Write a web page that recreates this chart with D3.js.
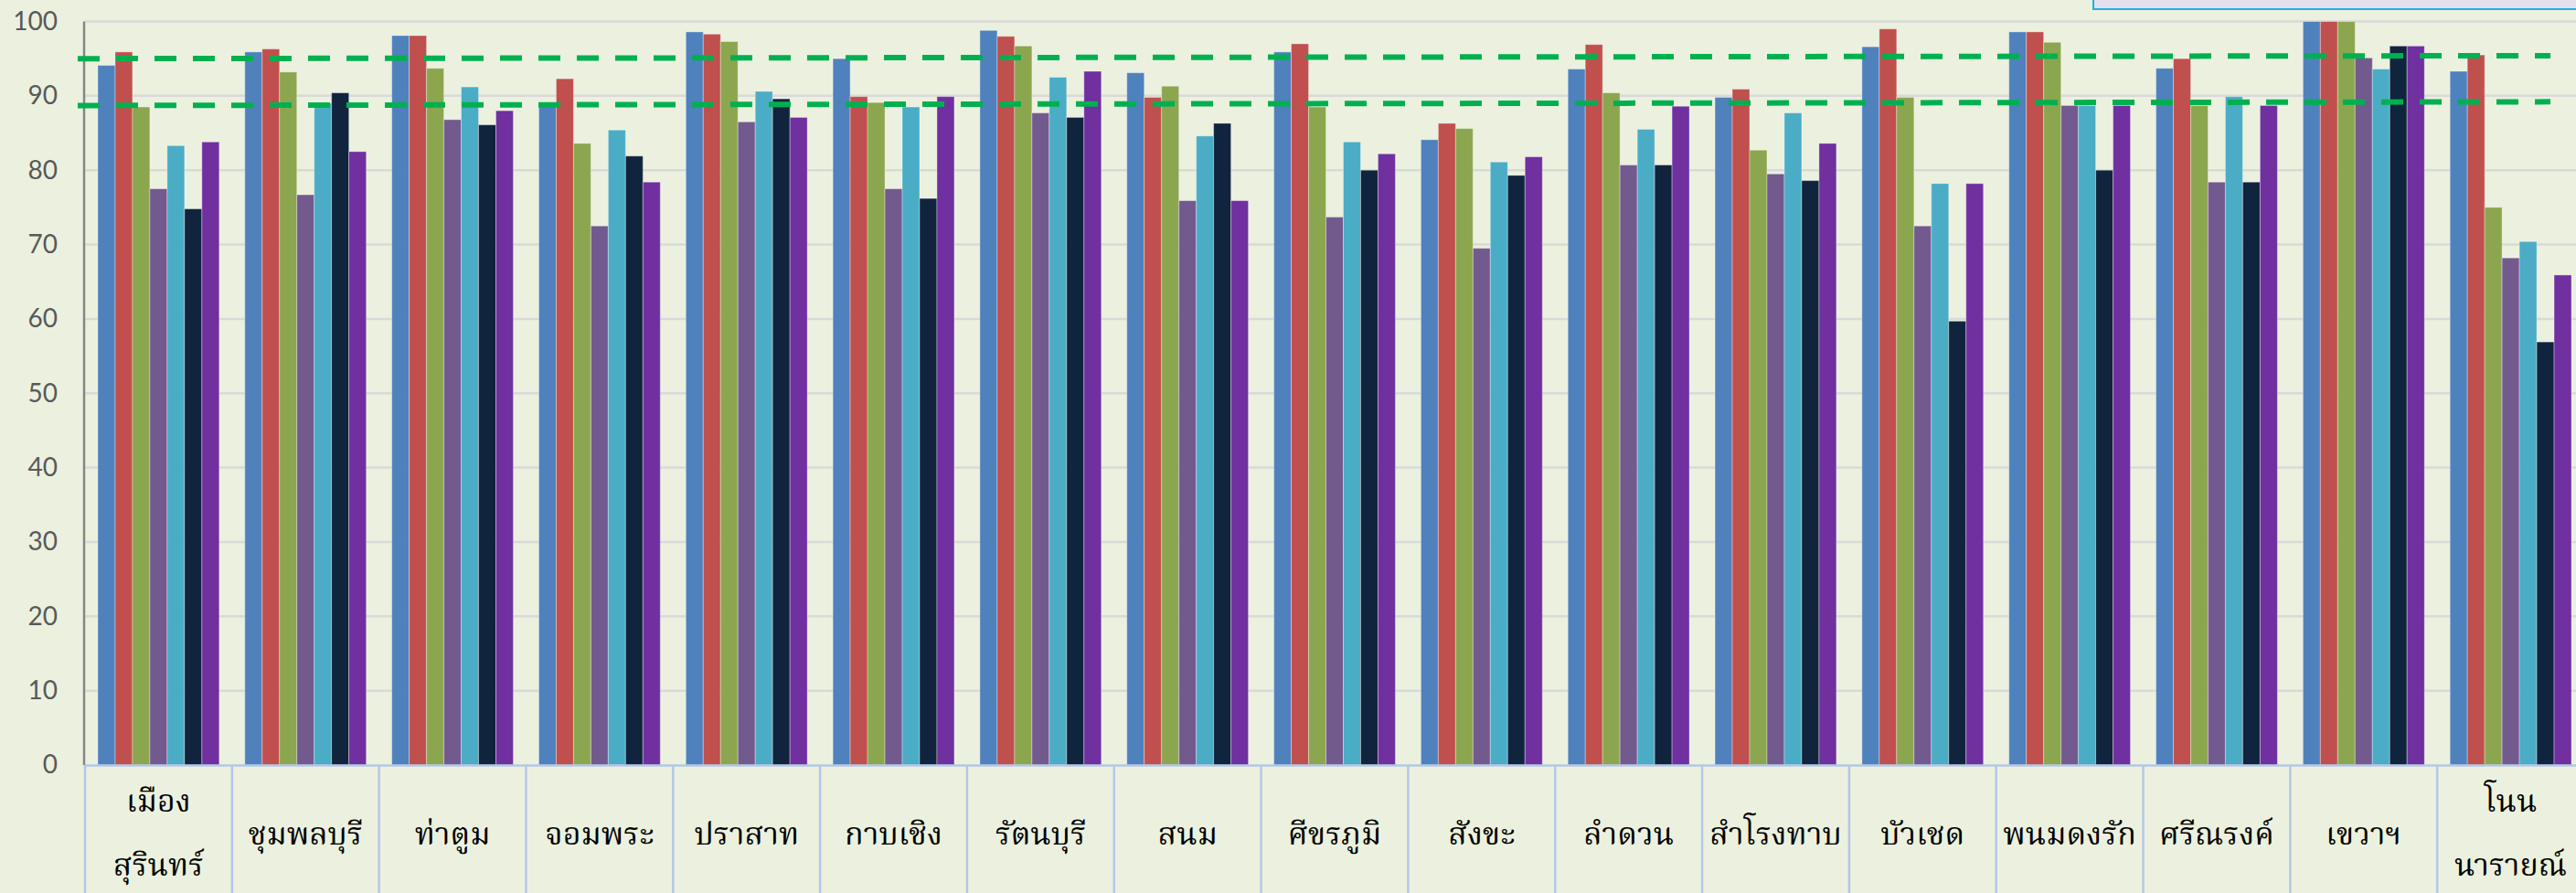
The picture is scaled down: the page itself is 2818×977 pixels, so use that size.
<!DOCTYPE html>
<html><head><meta charset="utf-8">
<script src="https://cdn.jsdelivr.net/npm/d3@7"></script>
<style>
html,body{margin:0;padding:0;background:#EBF1DE;overflow:hidden;}
svg{display:block;}
</style></head>
<body>
<svg id="chart" width="2818" height="977"></svg>
<script>
// ---- data ----
const categories = ["เมือง\nสุรินทร์","ชุมพลบุรี","ท่าตูม","จอมพระ","ปราสาท","กาบเชิง","รัตนบุรี","สนม","ศีขรภูมิ","สังขะ","ลำดวน","สำโรงทาบ","บัวเชด","พนมดงรัก","ศรีณรงค์","เขวาฯ","โนน\nนารายณ์"];
const seriesNames = ["s1","s2","s3","s4","s5","s6","s7"];
const s1 = [94.1,95.9,98.1,88.8,98.6,95.0,98.8,93.1,95.9,84.1,93.6,89.8,96.6,98.6,93.7,100,93.3];
const s2 = [95.9,96.3,98.1,92.3,98.3,89.9,98.0,89.8,97.0,86.3,96.9,90.9,99.0,98.6,95.0,100,95.5];
const s3 = [88.5,93.2,93.7,83.6,97.3,89.1,96.7,91.3,88.5,85.6,90.4,82.7,89.8,97.2,88.7,100,75.0];
const s4 = [77.5,76.7,86.8,72.5,86.5,77.5,87.7,75.9,73.7,69.5,80.7,79.5,72.5,88.7,78.4,95.1,68.2];
const s5 = [83.3,89.0,91.2,85.4,90.6,88.5,92.5,84.6,83.8,81.1,85.5,87.7,78.2,88.7,89.9,93.6,70.4];
const s6 = [74.8,90.4,86.1,81.9,89.6,76.2,87.1,86.3,80.0,79.3,80.7,78.6,59.7,80.0,78.4,96.7,56.9];
const s7 = [83.8,82.5,88.0,78.4,87.1,89.9,93.3,75.9,82.2,81.8,88.6,83.6,78.2,88.7,88.7,96.7,65.9];
const seriesValues = [s1,s2,s3,s4,s5,s6,s7];
const yTicks = [0,10,20,30,40,50,60,70,80,90,100];
// dashed target lines: value at left end, value at right end
const refStart = [95.0, 88.7];
const refEnd = [95.4, 89.2];

const colors = ["#4F81BD","#C0504D","#8BA64E","#725A8F","#4BACC6","#10243E","#7030A0"];

// ---- layout ----
const W = 2818, H = 977;
const pLeft = 93, pRight = 2827, pTop = 23.5, pBase = 837;
const svg = d3.select("#chart");
svg.append("rect").attr("width",W).attr("height",H).attr("fill","#EBF1DE");

const x0 = d3.scaleBand().domain(categories).range([pLeft,pRight]).padding(0);
const bw = x0.bandwidth();
const x1 = d3.scaleBand().domain(seriesNames).range([bw*0.087, bw*0.913]).padding(0);
const y = d3.scaleLinear().domain([0,100]).range([pBase, pTop]);

// gridlines
svg.append("g").selectAll("line").data(yTicks.filter(d=>d>0)).join("line")
  .attr("x1",pLeft).attr("x2",pRight)
  .attr("y1",d=>y(d)).attr("y2",d=>y(d))
  .attr("stroke","#D9D9D9").attr("stroke-width",2.5);

// y axis labels
const yAxis = d3.axisLeft(y).tickValues(yTicks).tickSize(0).tickPadding(30);
const gy = svg.append("g").attr("transform",`translate(${pLeft},0)`).call(yAxis);
gy.select(".domain").remove();
gy.selectAll("text").attr("font-family","Lato, 'Open Sans', sans-serif").attr("font-size",28).attr("fill","#595959");

// bars
const groups = svg.append("g").selectAll("g").data(categories).join("g")
  .attr("transform",d=>`translate(${x0(d)},0)`);
groups.selectAll("rect").data((c,i)=>seriesNames.map((s,j)=>({s,v:seriesValues[j][i],j})))
  .join("rect")
  .attr("x",d=>x1(d.s)).attr("width",x1.bandwidth())
  .attr("y",d=>y(d.v)).attr("height",d=>pBase-y(d.v))
  .attr("fill",d=>colors[d.j])
  .attr("stroke","rgba(255,255,255,0.35)").attr("stroke-width",1);

// y axis line
svg.append("line").attr("x1",pLeft-1).attr("x2",pLeft-1).attr("y1",pTop).attr("y2",pBase)
  .attr("stroke","#868686").attr("stroke-width",2.5);

// category axis with boxes
const xAxis = d3.axisBottom(x0).tickSize(0).tickFormat("");
const gx = svg.append("g").attr("transform",`translate(0,${pBase})`).call(xAxis);
gx.select(".domain").attr("stroke","#B4C7E7").attr("stroke-width",2.5);
const bounds = categories.map(c=>x0(c)).concat([pRight]);
svg.append("g").selectAll("line").data(bounds).join("line")
  .attr("x1",d=>d).attr("x2",d=>d).attr("y1",pBase).attr("y2",H)
  .attr("stroke","#B4C7E7").attr("stroke-width",2.5);

const lbl = svg.append("g").selectAll("text").data(categories).join("text")
  .attr("x",d=>x0(d)+bw/2)
  .attr("text-anchor","middle")
  .attr("font-family","'Noto Serif Thai','Noto Sans Thai','Loma','Garuda','Norasi',serif")
  .attr("font-size",34).attr("fill","#000");
lbl.each(function(d){
  const lines = d.split("\n");
  const t = d3.select(this);
  if(lines.length===1){
    t.append("tspan").attr("x",x0(d)+bw/2).attr("y",915).attr("dominant-baseline","middle").text(lines[0]);
  } else {
    lines.forEach((l,k)=>t.append("tspan").attr("x",x0(d)+bw/2).attr("y",879+k*70).attr("dominant-baseline","middle").text(l));
  }
});

// dashed reference lines
const refX0 = 85, refX1 = 2790;
svg.append("g").selectAll("line").data(refStart).join("line")
  .attr("x1",refX0).attr("x2",refX1)
  .attr("y1",d=>y(d)).attr("y2",(d,i)=>y(refEnd[i]))
  .attr("stroke","#00B050").attr("stroke-width",6).attr("stroke-dasharray","24 18");

// top-right box (partially visible)
svg.append("rect").attr("x",2290).attr("y",-10).attr("width",600).attr("height",20)
  .attr("fill","#E4DFEC").attr("stroke","#1FB0E8").attr("stroke-width",2);
</script>
</body></html>
